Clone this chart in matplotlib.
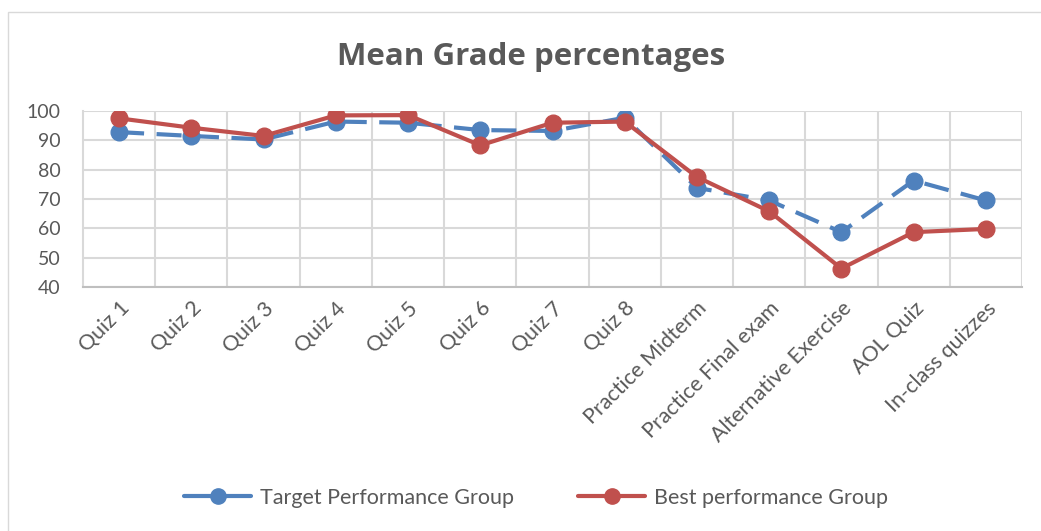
import matplotlib.pyplot as plt
from matplotlib.patches import Rectangle
from matplotlib.lines import Line2D
import numpy as np

categories = ['Quiz 1', 'Quiz 2', 'Quiz 3', 'Quiz 4', 'Quiz 5', 'Quiz 6', 'Quiz 7', 'Quiz 8',
              'Practice Midterm', 'Practice Final exam', 'Alternative Exercise', 'AOL Quiz',
              'In-class quizzes']
target_group = [92.8, 91.5, 90.3, 96.4, 96.0, 93.5, 93.2, 97.7, 73.8, 69.5, 58.7, 76.3, 69.5]
best_group = [97.5, 94.3, 91.5, 98.5, 98.6, 88.3, 96.0, 96.4, 77.5, 65.8, 46.3, 58.7, 59.8]
y_ticks = [40, 50, 60, 70, 80, 90, 100]

plt.rcParams['font.family'] = ['Lato', 'DejaVu Sans']
text_grey = '#595959'
grid_grey = '#d9d9d9'
blue = '#4F81BD'
red = '#C0504D'

fig = plt.figure(figsize=(10.41, 5.31), dpi=100)
ax = fig.add_axes([83 / 1041, 1 - 287 / 531, 939 / 1041, 176 / 531])

# outer chart border
fig.patches.append(Rectangle((8 / 1041, -0.1), 1.2, 1 - 12 / 531 + 0.1, transform=fig.transFigure,
                             fill=False, edgecolor=grid_grey, linewidth=1))

x = np.arange(len(categories))
ax.plot(x, target_group, color=blue, linewidth=3, dashes=(6, 3), marker='o', markersize=12,
        zorder=3)
ax.plot(x, best_group, color=red, linewidth=3, marker='o', markersize=12, zorder=4)

ax.set_xlim(-0.5, len(categories) - 0.5)
ax.set_ylim(40, 100)
ax.set_yticks(y_ticks)
ax.set_xticks(x)
ax.set_xticklabels(categories, rotation=45, ha='right', rotation_mode='anchor', fontsize=15.5)
ax.set_xticks(np.arange(len(categories)) + 0.5, minor=True)
ax.tick_params(axis='both', which='both', length=0, labelcolor=text_grey)
ax.tick_params(axis='y', labelsize=14, pad=16)
ax.tick_params(axis='x', pad=8)
ax.grid(True, axis='y', color=grid_grey, linewidth=1.5)
ax.grid(True, axis='x', which='minor', color=grid_grey, linewidth=1.5)
ax.set_axisbelow(True)
for side in ['top', 'right']:
    ax.spines[side].set_visible(False)
ax.spines['left'].set_color(grid_grey)
ax.spines['left'].set_linewidth(1.5)
ax.spines['bottom'].set_color('#bfbfbf')
ax.spines['bottom'].set_linewidth(1.5)

fig.text(531 / 1041, 1 - 57 / 531, 'Mean Grade percentages', ha='center', va='center',
         fontsize=22.5, fontweight='bold', color=text_grey, family=['Open Sans', 'DejaVu Sans'])

handles = [Line2D([], [], color=blue, linewidth=3, marker='o', markersize=11,
                  solid_capstyle='round'),
           Line2D([], [], color=red, linewidth=3, marker='o', markersize=11,
                  solid_capstyle='round')]
labels = ['Target Performance Group', 'Best performance Group']
fig.legend(handles, labels, loc='center', bbox_to_anchor=(536 / 1041, 1 - 498 / 531), ncol=2,
           frameon=False, fontsize=15.5, labelcolor=text_grey, handlelength=3.1,
           handletextpad=0.4, columnspacing=3)

fig.savefig('out.png', dpi=100)
